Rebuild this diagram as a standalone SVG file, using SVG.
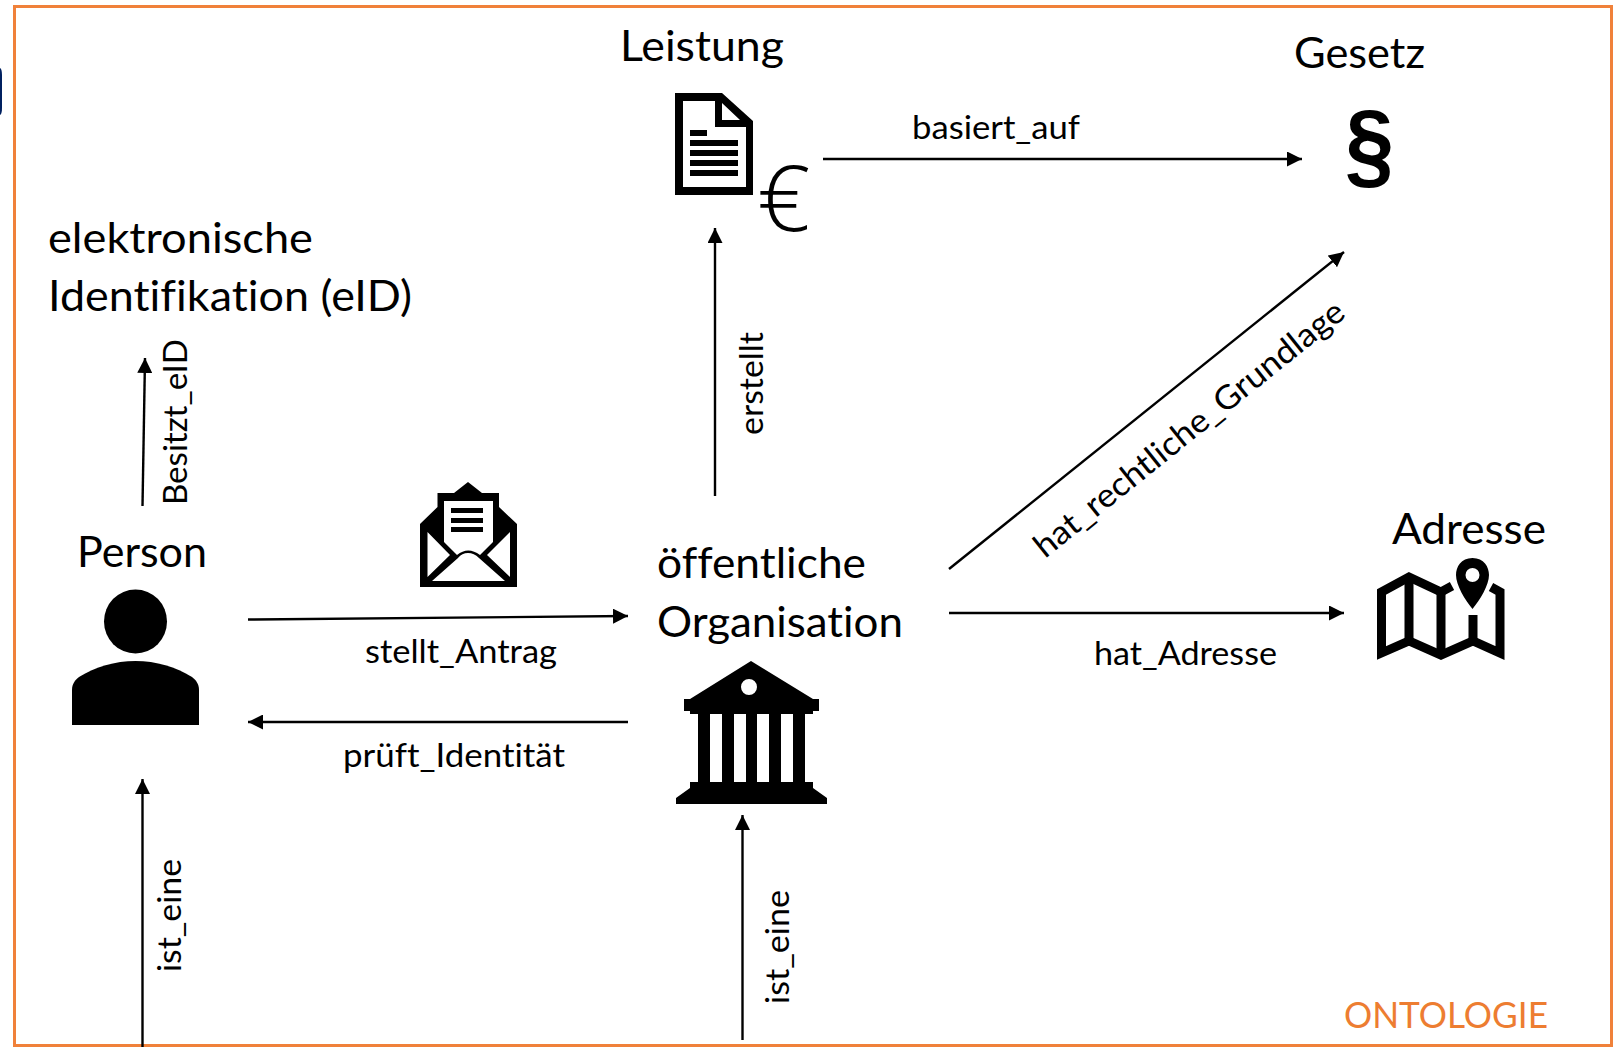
<svg xmlns="http://www.w3.org/2000/svg" width="1619" height="1047" viewBox="0 0 1619 1047">
<style>
.t{font-family:"Lato","Open Sans",sans-serif;fill:#000;font-variant-ligatures:none}
.n{font-size:42px}
.e{font-size:33px}
.c{fill:none;stroke:#000;stroke-width:2.400}
.m{fill:none;stroke:#000;stroke-width:9;stroke-linejoin:miter}
</style>
<defs>
<marker id="a" viewBox="0 0 15 15" refX="15" refY="7.5" markerWidth="15" markerHeight="15" markerUnits="userSpaceOnUse" orient="auto"><path d="M0 0L15 7.500L0 15Z" fill="#000"/></marker>
</defs>
<rect width="1619" height="1047" fill="#fff"/>
<path d="M0 68Q2 69 2 75V108Q2 114 0 115Z" fill="#002060"/>
<path d="M14.500 1047V6.500H1611.500V1045.500H14.500" fill="none" stroke="#F0813A" stroke-width="3"/>
<g id="connectors">
<path class="c" marker-end="url(#a)" d="M823 159H1302"/>
<path class="c" marker-end="url(#a)" d="M715 496V228"/>
<path class="c" marker-end="url(#a)" d="M142.500 506L145 358"/>
<path class="c" marker-end="url(#a)" d="M248 619.500L628 616"/>
<path class="c" marker-end="url(#a)" d="M628 722H248"/>
<path class="c" marker-end="url(#a)" d="M142.500 1047V779"/>
<path class="c" marker-end="url(#a)" d="M742.500 1040V815"/>
<path class="c" marker-end="url(#a)" d="M949 569L1344 252"/>
<path class="c" marker-end="url(#a)" d="M949 613H1344"/>
<text class="t e" x="912" y="139" textLength="168" lengthAdjust="spacingAndGlyphs">basiert_auf</text>
<text class="t e" x="365" y="663" textLength="192" lengthAdjust="spacingAndGlyphs">stellt_Antrag</text>
<text class="t e" x="343" y="767" textLength="222" lengthAdjust="spacingAndGlyphs">prüft_Identität</text>
<text class="t e" x="1094" y="665" textLength="183" lengthAdjust="spacingAndGlyphs">hat_Adresse</text>
<text class="t e" transform="translate(763 435) rotate(-90)" textLength="103" lengthAdjust="spacingAndGlyphs">erstellt</text>
<text class="t e" transform="translate(187 505) rotate(-90)" textLength="166" lengthAdjust="spacingAndGlyphs">Besitzt_eID</text>
<text class="t e" transform="translate(181 972) rotate(-90)" textLength="113" lengthAdjust="spacingAndGlyphs">ist_eine</text>
<text class="t e" transform="translate(788.500 1004) rotate(-90)" textLength="114" lengthAdjust="spacingAndGlyphs">ist_eine</text>
<text class="t e" transform="translate(1045 559) rotate(-38.800)" textLength="388" lengthAdjust="spacingAndGlyphs">hat_rechtliche_Grundlage</text>
</g>
<g id="leistung">
<text class="t n" x="620" y="61" textLength="164" lengthAdjust="spacingAndGlyphs">Leistung</text>
<path fill-rule="evenodd" d="M675 93H722L753 121V195H675ZM683 101V187H746V127H715V101ZM722 103V120H740Z"/>
<path d="M690 130H707V136H690ZM690 140H738V146H690ZM690 150H738V156H690ZM690 160H738V166H690ZM690 170H738V176H690Z"/>
<text transform="translate(757 231) scale(1.04 1)" font-family="'Open Sans',sans-serif" font-size="90" font-weight="300" fill="#000">€</text>
</g>
<g id="gesetz">
<text class="t n" x="1294" y="68" textLength="131" lengthAdjust="spacingAndGlyphs">Gesetz</text>
<text transform="translate(1345 177) scale(0.92 1)" font-family="'Liberation Sans',sans-serif" font-size="96" font-weight="700" fill="#000">§</text>
</g>
<g id="eid">
<text class="t n" x="48" y="253" textLength="265" lengthAdjust="spacingAndGlyphs">elektronische</text>
<text class="t n" x="48" y="311" textLength="364" lengthAdjust="spacingAndGlyphs">Identifikation (eID)</text>
</g>
<g id="person">
<text class="t n" x="77" y="567" textLength="130" lengthAdjust="spacingAndGlyphs">Person</text>
<ellipse cx="135.500" cy="621.500" rx="31.500" ry="32"/>
<path d="M72 725V690C72 684 75 680 79 677C95 667 115 661 135.500 661C156 661 176 667 192 677C196 680 199 684 199 690V725Z"/>
</g>
<g id="antrag">
<path fill-rule="evenodd" d="M468 482L482 493H499V507L517 524V587H420V524L437.500 507V493H454ZM444 501V542L457 555Q468 546 480 555L493 542V501ZM427.500 532V577L450 555ZM510 532L487 555L510 577ZM468 553Q462 553 458 558L432 581H505L479 558Q474 553 468 553Z"/>
<path d="M451 508H483V513H451ZM451 518H483V523H451ZM451 527H483V532H451Z"/>
</g>
<g id="organisation">
<text class="t n" x="657" y="578" textLength="209" lengthAdjust="spacingAndGlyphs">öffentliche</text>
<text class="t n" x="657" y="636.500" textLength="246" lengthAdjust="spacingAndGlyphs">Organisation</text>
<path fill-rule="evenodd" d="M751 661L813 699H819V711H813V714H805V782H813V788L827 798V804H676V798L690 788V782H698V714H690V711H684V699H690ZM741 687a8 8 0 1 0 16 0a8 8 0 1 0 -16 0ZM710 714V782H722V714ZM734 714V782H746V714ZM757 714V782H769V714ZM781 714V782H793V714Z"/>
</g>
<g id="adresse">
<text class="t n" x="1392" y="544" textLength="154" lengthAdjust="spacingAndGlyphs">Adresse</text>
<path fill-rule="evenodd" d="M1472.500 558C1461 558 1456 567 1456 575C1456 585 1465 600 1472.500 609C1480 600 1489 585 1489 575C1489 567 1484 558 1472.500 558ZM1465.500 575a7 7 0 1 0 14 0a7 7 0 1 0 -14 0Z"/>
<path class="m" d="M1452 586L1441 592L1409 577L1381.500 592V653L1409 641L1441 655L1473 641L1500 653V592L1491 587"/>
<path class="m" d="M1409 577V641M1441 592V655M1473 615V641"/>
</g>
<text class="t" x="1344" y="1028" font-size="36" style="fill:#ED7D31" textLength="204" lengthAdjust="spacingAndGlyphs">ONTOLOGIE</text>
</svg>
